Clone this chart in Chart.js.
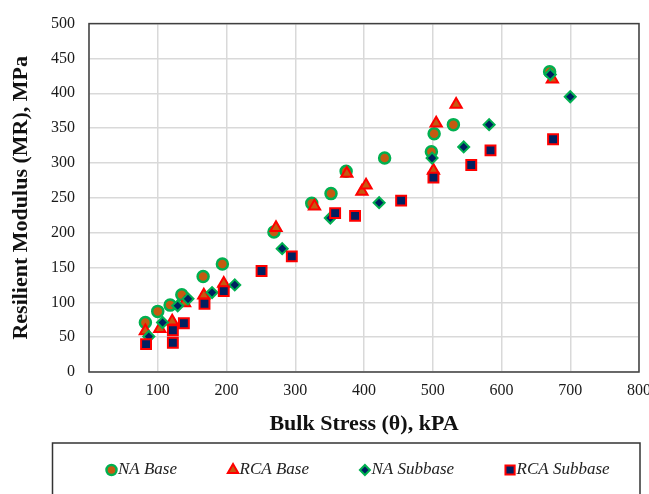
<!DOCTYPE html>
<html>
<head>
<meta charset="utf-8">
<script src="https://cdn.jsdelivr.net/npm/chart.js@4/dist/chart.umd.min.js"></script>
<style>
  html, body { margin: 0; padding: 0; background: #fff; }
  #wrap { width: 649px; height: 494px; }
</style>
</head>
<body>
<div id="wrap"><canvas id="mrChart" width="649" height="494"></canvas></div>
<script>
// bulk stress (kPa) vs resilient modulus (MPa) for each material
const naBaseX = [82, 100, 118, 135, 166, 194, 269, 324, 352, 374, 430, 498, 502, 530, 670];
const naBaseY = [71, 87, 96, 111, 137, 155, 201, 242, 256, 288, 307, 316, 342, 355, 431];

const rcaBaseX = [82, 103, 121, 139, 167, 196, 272, 328, 375, 397, 403, 501, 505, 534, 674];
const rcaBaseY = [59, 62, 73, 99, 110, 127, 207, 238, 285, 259, 268, 289, 357, 384, 420];

const naSubX = [87, 107, 129, 144, 179, 212, 281, 351, 422, 499, 545, 582, 671, 700];
const naSubY = [51, 71, 95, 105, 114, 125, 177, 221, 243, 307, 323, 355, 427, 395];

const rcaSubX = [83, 122, 122, 138, 168, 196, 251, 295, 358, 387, 454, 501, 556, 584, 675];
const rcaSubY = [40, 42, 60, 70, 98, 116, 145, 166, 228, 224, 246, 279, 297, 318, 334];

const seriesNames = ["NA Base", "RCA Base", "NA Subbase", "RCA Subbase"];

const FONT = "'Liberation Serif', 'Times New Roman', serif";
const ORANGE = "#C55A11";
const GREEN = "#00B050";
const RED = "#FF0000";
const NAVY = "#002060";

function toPoints(xs, ys) {
  return xs.map((x, i) => ({ x: x, y: ys[i] }));
}

// frame round the whole plot area
const frameBox = {
  id: "frameBox",
  afterDatasetsDraw(chart) {
    const { ctx, chartArea: a } = chart;
    ctx.save();
    ctx.strokeStyle = "#404040";
    ctx.lineWidth = 1.5;
    ctx.strokeRect(a.left, a.top, a.right - a.left, a.bottom - a.top);
    ctx.restore();
  },
};

// boxed legend strip under the axis title
const boxLegend = {
  id: "boxLegend",
  afterDraw(chart) {
    const ctx = chart.ctx;
    const top = 443;
    ctx.save();
    ctx.strokeStyle = "#333";
    ctx.lineWidth = 1.5;
    ctx.strokeRect(52.5, top, 587.5, 70);

    ctx.font = "italic 17px " + FONT;
    ctx.textBaseline = "middle";
    let x = 111.5;
    const y = 470;
    chart.data.datasets.forEach((ds) => {
      ctx.fillStyle = ds.pointBackgroundColor;
      ctx.strokeStyle = ds.pointBorderColor;
      ctx.lineWidth = ds.pointBorderWidth;
      Chart.helpers.drawPoint(ctx, {
        pointStyle: ds.pointStyle,
        radius: ds.pointRadius - 0.5,
        rotation: 0,
        borderWidth: ds.pointBorderWidth,
      }, x, y);
      ctx.fillStyle = "#222";
      ctx.fillText(ds.label, x + 6.5, y);
      x += 6.5 + ctx.measureText(ds.label).width + 56;
    });
    ctx.restore();
  },
};

const datasets = [
  {
    label: seriesNames[0],
    data: toPoints(naBaseX, naBaseY),
    pointStyle: "circle",
    pointRadius: 5.5,
    pointBorderWidth: 2.5,
    pointBackgroundColor: ORANGE,
    pointBorderColor: GREEN,
    order: 4,
  },
  {
    label: seriesNames[1],
    data: toPoints(rcaBaseX, rcaBaseY),
    pointStyle: "triangle",
    pointRadius: 6.5,
    pointBorderWidth: 2,
    pointBackgroundColor: ORANGE,
    pointBorderColor: RED,
    order: 3,
  },
  {
    label: seriesNames[2],
    data: toPoints(naSubX, naSubY),
    pointStyle: "rectRot",
    pointRadius: 5.5,
    pointBorderWidth: 2,
    pointBackgroundColor: NAVY,
    pointBorderColor: GREEN,
    order: 2,
  },
  {
    label: seriesNames[3],
    data: toPoints(rcaSubX, rcaSubY),
    pointStyle: "rect",
    pointRadius: 7,
    pointBorderWidth: 2,
    pointBackgroundColor: NAVY,
    pointBorderColor: RED,
    order: 1,
  },
];

new Chart(document.getElementById("mrChart"), {
  type: "scatter",
  data: { datasets: datasets },
  options: {
    responsive: false,
    animation: false,
    layout: { padding: { top: 17, right: 10, left: 0, bottom: 51 } },
    plugins: {
      legend: { display: false },
      tooltip: { enabled: false },
    },
    scales: {
      x: {
        type: "linear",
        min: 0,
        max: 800,
        afterFit(scale) {
          scale.height = 71;
          scale.paddingLeft = 0;
          scale.paddingRight = 0;
        },
        ticks: {
          stepSize: 100,
          padding: 9,
          color: "#1a1a1a",
          font: { family: FONT, size: 16 },
        },
        grid: { color: "#d9d9d9", lineWidth: 1.5, drawTicks: false },
        border: { display: false },
        title: {
          display: true,
          text: "Bulk Stress (θ), kPA",
          color: "#111",
          padding: { top: 0, bottom: 5 },
          font: { family: FONT, size: 22, weight: "bold" },
        },
      },
      y: {
        min: 0,
        max: 500,
        afterFit(scale) {
          scale.width = 89;
        },
        ticks: {
          stepSize: 50,
          padding: 14,
          color: "#1a1a1a",
          font: { family: FONT, size: 16 },
        },
        grid: { color: "#d9d9d9", lineWidth: 1.5, drawTicks: false },
        border: { display: false },
        title: {
          display: true,
          text: "Resilient Modulus (MR), MPa",
          color: "#111",
          padding: { top: 8, bottom: 0 },
          font: { family: FONT, size: 22, weight: "bold" },
        },
      },
    },
  },
  plugins: [frameBox, boxLegend],
});
</script>
</body>
</html>
